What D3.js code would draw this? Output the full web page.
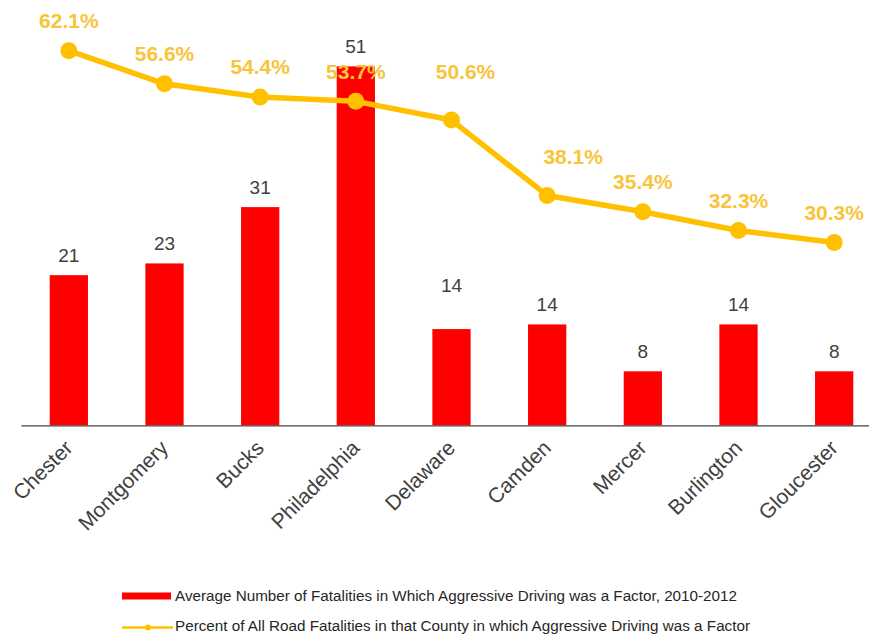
<!DOCTYPE html>
<html>
<head>
<meta charset="utf-8">
<script src="https://cdn.jsdelivr.net/npm/d3@7"></script>
<style>
  body { margin: 0; background: #fff; }
  svg { display: block; font-family: "Liberation Sans", Arial, sans-serif; }
</style>
</head>
<body>
<div id="chart"></div>
<script>
// datos
var condados = ["Chester", "Montgomery", "Bucks", "Philadelphia", "Delaware",
                "Camden", "Mercer", "Burlington", "Gloucester"];
var fatalidades = [21.33, 23, 31, 51, 13.67, 14.33, 7.67, 14.33, 7.67];
var porcentaje = [62.1, 56.6, 54.4, 53.7, 50.6, 38.1, 35.4, 32.3, 30.3];
var leyenda = ["Average Number of Fatalities in Which Aggressive Driving was a Factor, 2010-2012",
               "Percent of All Road Fatalities in that County in which Aggressive Driving was a Factor"];

// ajustes manuales de etiquetas (como en el original)
var ajusteBarra = [0, 0, 0, 0, -24, 0, 0, 0, 0];
var ajustePctX = [0, 0, 0, 0, 14, 26, 0, 0, 0];
var ajustePctY = [0, 0, 0, 0, -18, -9, 0, 0, 0];

var width = 869, height = 635,
    margin = {left: 21, right: -13, top: 3, bottom: 210};

var svg = d3.select("#chart").append("svg")
    .attr("width", width).attr("height", height);

var x = d3.scaleBand()
    .domain(condados)
    .range([margin.left, width - margin.right])
    .paddingInner(0.6).paddingOuter(0.3);

var yBase = height - margin.bottom + 0.3;
var y = d3.scaleLinear().domain([0, 60]).range([yBase, margin.top]);
var y2 = d3.scaleLinear().domain([0, 70]).range([yBase, margin.top]);

var datos = condados.map(function (c, i) {
  return {condado: c, n: fatalidades[i], p: porcentaje[i], i: i};
});

// barras
svg.append("g").selectAll("rect")
  .data(datos).enter().append("rect")
    .attr("x", function (d) { return x(d.condado); })
    .attr("y", function (d) { return y(d.n); })
    .attr("width", x.bandwidth())
    .attr("height", function (d) { return yBase - y(d.n); })
    .style("fill", "#ff0000");

// eje x
var xAxis = svg.append("g")
    .attr("transform", "translate(0," + yBase + ")")
    .call(d3.axisBottom(x).tickSize(0).tickPadding(0));
xAxis.select(".domain").attr("stroke", "#404040").attr("stroke-width", 1.3);
xAxis.selectAll("text")
    .attr("font-size", 21)
    .attr("fill", "#404040")
    .attr("text-anchor", "end")
    .attr("dy", 0)
    .attr("transform", "translate(5,24) rotate(-45)");

// etiquetas de las barras
svg.append("g").selectAll("text")
  .data(datos).enter().append("text")
    .attr("x", function (d) { return x(d.condado) + x.bandwidth() / 2; })
    .attr("y", function (d) { return y(d.n) - 20 + ajusteBarra[d.i]; })
    .attr("dy", "0.35em")
    .attr("text-anchor", "middle")
    .attr("font-size", 19)
    .attr("fill", "#404040")
    .text(function (d) { return d3.format(".0f")(d.n); });

// linea de porcentaje
var linea = d3.line()
    .x(function (d) { return x(d.condado) + x.bandwidth() / 2; })
    .y(function (d) { return y2(d.p); });

svg.append("path")
    .datum(datos)
    .attr("d", linea)
    .attr("fill", "none")
    .attr("stroke", "#ffc000")
    .attr("stroke-width", 5.5)
    .attr("stroke-linejoin", "round");

svg.append("g").selectAll("circle")
  .data(datos).enter().append("circle")
    .attr("cx", function (d) { return x(d.condado) + x.bandwidth() / 2; })
    .attr("cy", function (d) { return y2(d.p); })
    .attr("r", 8.5)
    .attr("fill", "#ffc000");

svg.append("g").selectAll("text")
  .data(datos).enter().append("text")
    .attr("x", function (d) { return x(d.condado) + x.bandwidth() / 2 + ajustePctX[d.i]; })
    .attr("y", function (d) { return y2(d.p) - 30 + ajustePctY[d.i]; })
    .attr("dy", "0.35em")
    .attr("text-anchor", "middle")
    .attr("font-size", 21)
    .attr("font-weight", "bold")
    .attr("fill", "#f8c43a")
    .text(function (d) { return d.p.toFixed(1) + "%"; });

// leyenda
var ley = svg.append("g");
ley.append("rect")
    .attr("x", 122).attr("y", 592.5)
    .attr("width", 49).attr("height", 7)
    .attr("fill", "#ff0000");
ley.append("text")
    .attr("x", 175).attr("y", 601)
    .attr("font-size", 14)
    .attr("fill", "#262626")
    .attr("textLength", 562)
    .attr("lengthAdjust", "spacingAndGlyphs")
    .text(leyenda[0]);

ley.append("line")
    .attr("x1", 122).attr("x2", 173)
    .attr("y1", 627.5).attr("y2", 627.5)
    .attr("stroke", "#ffc000").attr("stroke-width", 2.5);
ley.append("circle")
    .attr("cx", 148).attr("cy", 627.5).attr("r", 3)
    .attr("fill", "#ffc000");
ley.append("text")
    .attr("x", 175).attr("y", 631)
    .attr("font-size", 14)
    .attr("fill", "#262626")
    .attr("textLength", 575)
    .attr("lengthAdjust", "spacingAndGlyphs")
    .text(leyenda[1]);
</script>
</body>
</html>
